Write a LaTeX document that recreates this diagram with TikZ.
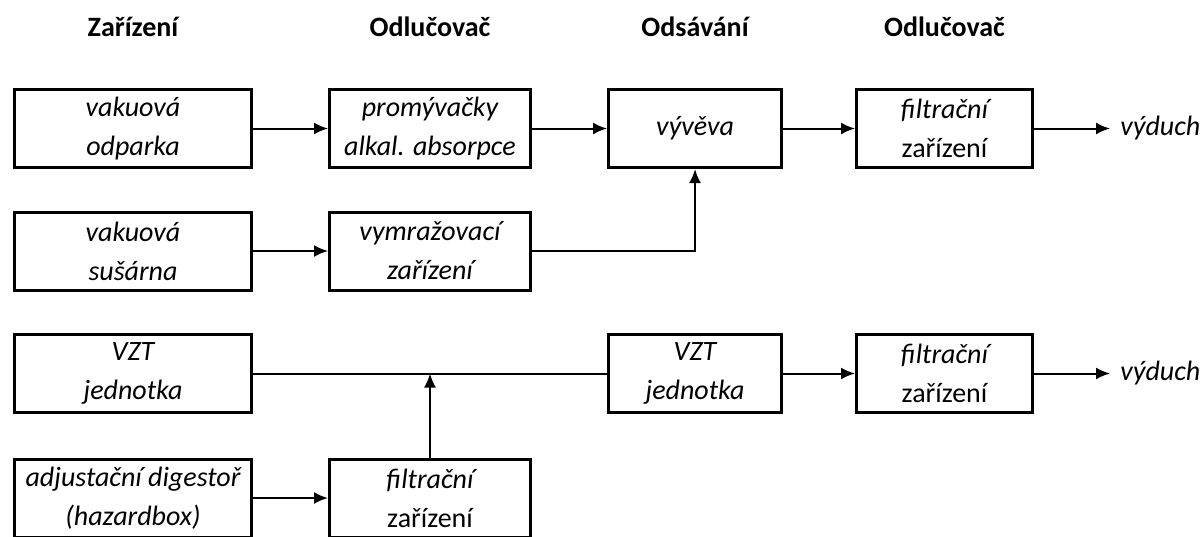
\documentclass[tikz,border=0pt]{standalone}
\usepackage{fontspec}
\setmainfont{Carlito}
\usetikzlibrary{arrows.meta}

\begin{document}
\begin{tikzpicture}[x=0.5pt,y=-0.5pt,>={Latex[length=7pt,width=6pt]},
  box/.style={draw,line width=1.5pt,minimum height=39pt,inner sep=0pt,
    align=center,font=\fontsize{14}{19.5}\selectfont\itshape},
  flow/.style={line width=1pt},
  head/.style={font=\fontsize{14}{17}\selectfont\bfseries}]
  % Rozměry (řádky a sloupce)
  \def\ra{128.5}
  \def\rb{251}
  \def\rc{373.5}
  \def\rd{498}
  \def\ca{133}
  \def\cb{430}
  \def\cc{695}
  \def\cd{944.5}

  % Okno obrázku
  \useasboundingbox (0,0) rectangle (1202,536);
  \clip (0,0) rectangle (1202,536);

  % Záhlaví sloupců
  \node[head] (hZar) at (\ca,27) {Zařízení};
  \node[head] (hOdl) at (\cb,27) {Odlučovač};
  \node[head] (hOds) at (\cc,27) {Odsávání};
  \node[head] (hOdlB) at (\cd,27) {Odlučovač};

  % První řádek
  \node[box,minimum width=118.5pt] (odparka) at (\ca,\ra) {vakuová\\odparka};
  \node[box,minimum width=100.5pt] (promyv) at (\cb,\ra) {promývačky\\alkal. absorpce};
  \node[box,minimum width=86.5pt] (vyveva) at (\cc,\ra) {vývěva};
  \node[box,minimum width=88pt] (filtrA) at (\cd,\ra) {filtrační\\\textup{zařízení}};
  \node[font=\fontsize{14}{17}\selectfont\itshape,anchor=west,inner sep=0pt] (vydA) at (1120,\ra) {výduch};

  % Druhý řádek
  \node[box,minimum width=118.5pt] (susarna) at (\ca,\rb) {vakuová\\sušárna};
  \node[box,minimum width=100.5pt] (vymraz) at (\cb,\rb) {vymražovací\\zařízení};

  % Třetí řádek
  \node[box,minimum width=118.5pt] (vztA) at (\ca,\rc) {VZT\\jednotka};
  \node[box,minimum width=86.5pt] (vztB) at (\cc,\rc) {VZT\\jednotka};
  \node[box,minimum width=88pt] (filtrB) at (\cd,\rc) {filtrační\\\textup{zařízení}};
  \node[font=\fontsize{14}{17}\selectfont\itshape,anchor=west,inner sep=0pt] (vydB) at (1120,\rc) {výduch};

  % Čtvrtý řádek (spodek oříznut)
  \node[box,minimum width=118.5pt] (digestor) at (\ca,\rd) {adjustační digestoř\\(hazardbox)};
  \node[box,minimum width=100.5pt] (filtrC) at (\cb,\rd) {filtrační\\\textup{zařízení}};

  % Spojnice
  \draw[flow,->] (odparka) -- (promyv);
  \draw[flow,->] (promyv) -- (vyveva);
  \draw[flow,->] (vyveva) -- (filtrA);
  \draw[flow,->] (filtrA) -- ([xshift=-5pt]vydA.west);
  \draw[flow,->] (susarna) -- (vymraz);
  \draw[flow,->] (vymraz) -| (vyveva);
  \draw[flow] (vztA) -- (vztB);
  \draw[flow,->] (filtrC) -- (filtrC.north |- vztA.east);
  \draw[flow,->] (vztB) -- (filtrB);
  \draw[flow,->] (filtrB) -- ([xshift=-5pt]vydB.west);
  \draw[flow,->] (digestor) -- (filtrC);
\end{tikzpicture}
\end{document}
